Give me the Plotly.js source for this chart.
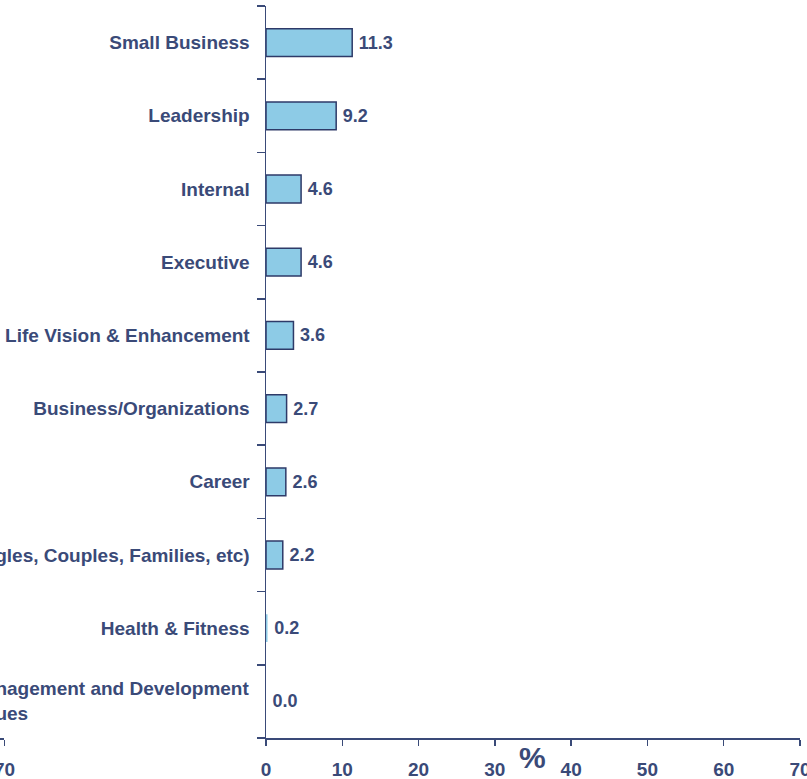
<!DOCTYPE html>
<html>
<head>
<meta charset="utf-8">
<script src="https://cdn.plot.ly/plotly-3.0.1.min.js"></script>
<style>html,body{margin:0;padding:0;background:#fff;}#chart{width:807px;height:779px;}</style>
</head>
<body>
<div id="chart"></div>
<script>
// Data (top to bottom)
const categories = [
  "Small Business",
  "Leadership",
  "Internal",
  "Executive",
  "Life Vision & Enhancement",
  "Business/Organizations",
  "Career",
  "Relationship (Singles, Couples, Families, etc)",
  "Health & Fitness",
  "Management and Development Issues"
];
const values = [11.3, 9.2, 4.6, 4.6, 3.6, 2.7, 2.6, 2.2, 0.2, 0.0];
const xTicks = [0, 10, 20, 30, 40, 50, 60, 70];
const twoLineCategory = "Management and Development Issues";
const twoLineText = "Management and Development<br>Issues";

const navy = "#3A4A78";
const font = {family: "Liberation Sans, Arial, sans-serif", size: 19, color: navy};

const ticktext = categories.map(c => c === twoLineCategory ? "" : "<b>" + c + "</b>");

const traces = [
  {
    type: "bar",
    orientation: "h",
    y: categories,
    x: values,
    width: 0.38,
    marker: {
      color: "#8DCBE6",
      line: {color: "#2E3A68", width: values.map(v => v < 0.5 ? 0 : 1.5)}
    },
    text: values.map(v => "<b>\u2009" + v.toFixed(1) + "</b>"),
    textposition: "outside",
    textfont: {family: font.family, size: 18, color: navy},
    cliponaxis: false,
    hoverinfo: "skip",
    xaxis: "x",
    yaxis: "y"
  },
  {
    type: "scatter",
    x: [],
    y: [],
    xaxis: "x2",
    yaxis: "y2",
    hoverinfo: "skip",
    showlegend: false
  }
];

const layout = {
  width: 807,
  height: 779,
  margin: {l: 0, r: 7, t: 6, b: 41},
  paper_bgcolor: "#ffffff",
  plot_bgcolor: "#ffffff",
  showlegend: false,
  font: font,
  bargap: 0,
  xaxis: {
    domain: [0.3325, 1],
    range: [0, 70],
    tickvals: xTicks,
    ticktext: xTicks.map(t => "<b>" + t + "</b>"),
    showgrid: false,
    zeroline: false,
    showline: true,
    linecolor: navy,
    linewidth: 1.5,
    ticks: "outside",
    ticklen: 6,
    tickwidth: 1.5,
    tickcolor: navy,
    tickfont: font,
    ticklabelstandoff: 8,
    ticklabeloverflow: "allow",
    automargin: false,
    fixedrange: true
  },
  yaxis: {
    range: [9.5, -0.5],
    type: "category",
    tickvals: categories,
    ticktext: ticktext,
    tickson: "boundaries",
    showgrid: false,
    zeroline: false,
    showline: true,
    linecolor: navy,
    linewidth: 1.5,
    ticks: "outside",
    ticklen: 8,
    tickwidth: 1.5,
    tickcolor: navy,
    tickfont: font,
    ticklabelstandoff: 11,
    ticklabeloverflow: "allow",
    automargin: false,
    fixedrange: true
  },
  xaxis2: {
    domain: [0, 0.0056],
    range: [0, 70],
    anchor: "y2",
    tickvals: [70],
    ticktext: ["<b>70</b>"],
    showgrid: false,
    zeroline: false,
    showline: true,
    linecolor: navy,
    linewidth: 1.5,
    ticks: "outside",
    ticklen: 6,
    tickwidth: 1.5,
    tickcolor: navy,
    tickfont: font,
    ticklabelstandoff: 8,
    ticklabeloverflow: "allow",
    automargin: false,
    fixedrange: true
  },
  yaxis2: {
    domain: [0, 1],
    anchor: "x2",
    range: [0, 1],
    visible: false,
    fixedrange: true
  },
  annotations: [
    {
      xref: "paper", yref: "paper",
      x: 0.666, y: -0.026,
      xanchor: "center", yanchor: "middle",
      text: "<b>%</b>",
      showarrow: false,
      font: {family: font.family, size: 30, color: navy}
    },
    {
      xref: "paper", yref: "y",
      x: 251 / 800, y: twoLineCategory,
      xanchor: "right", yanchor: "middle",
      align: "left",
      text: "<b>" + twoLineText + "</b>",
      showarrow: false,
      font: font
    }
  ]
};

Plotly.newPlot("chart", traces, layout, {displayModeBar: false, staticPlot: true});
</script>
</body>
</html>
